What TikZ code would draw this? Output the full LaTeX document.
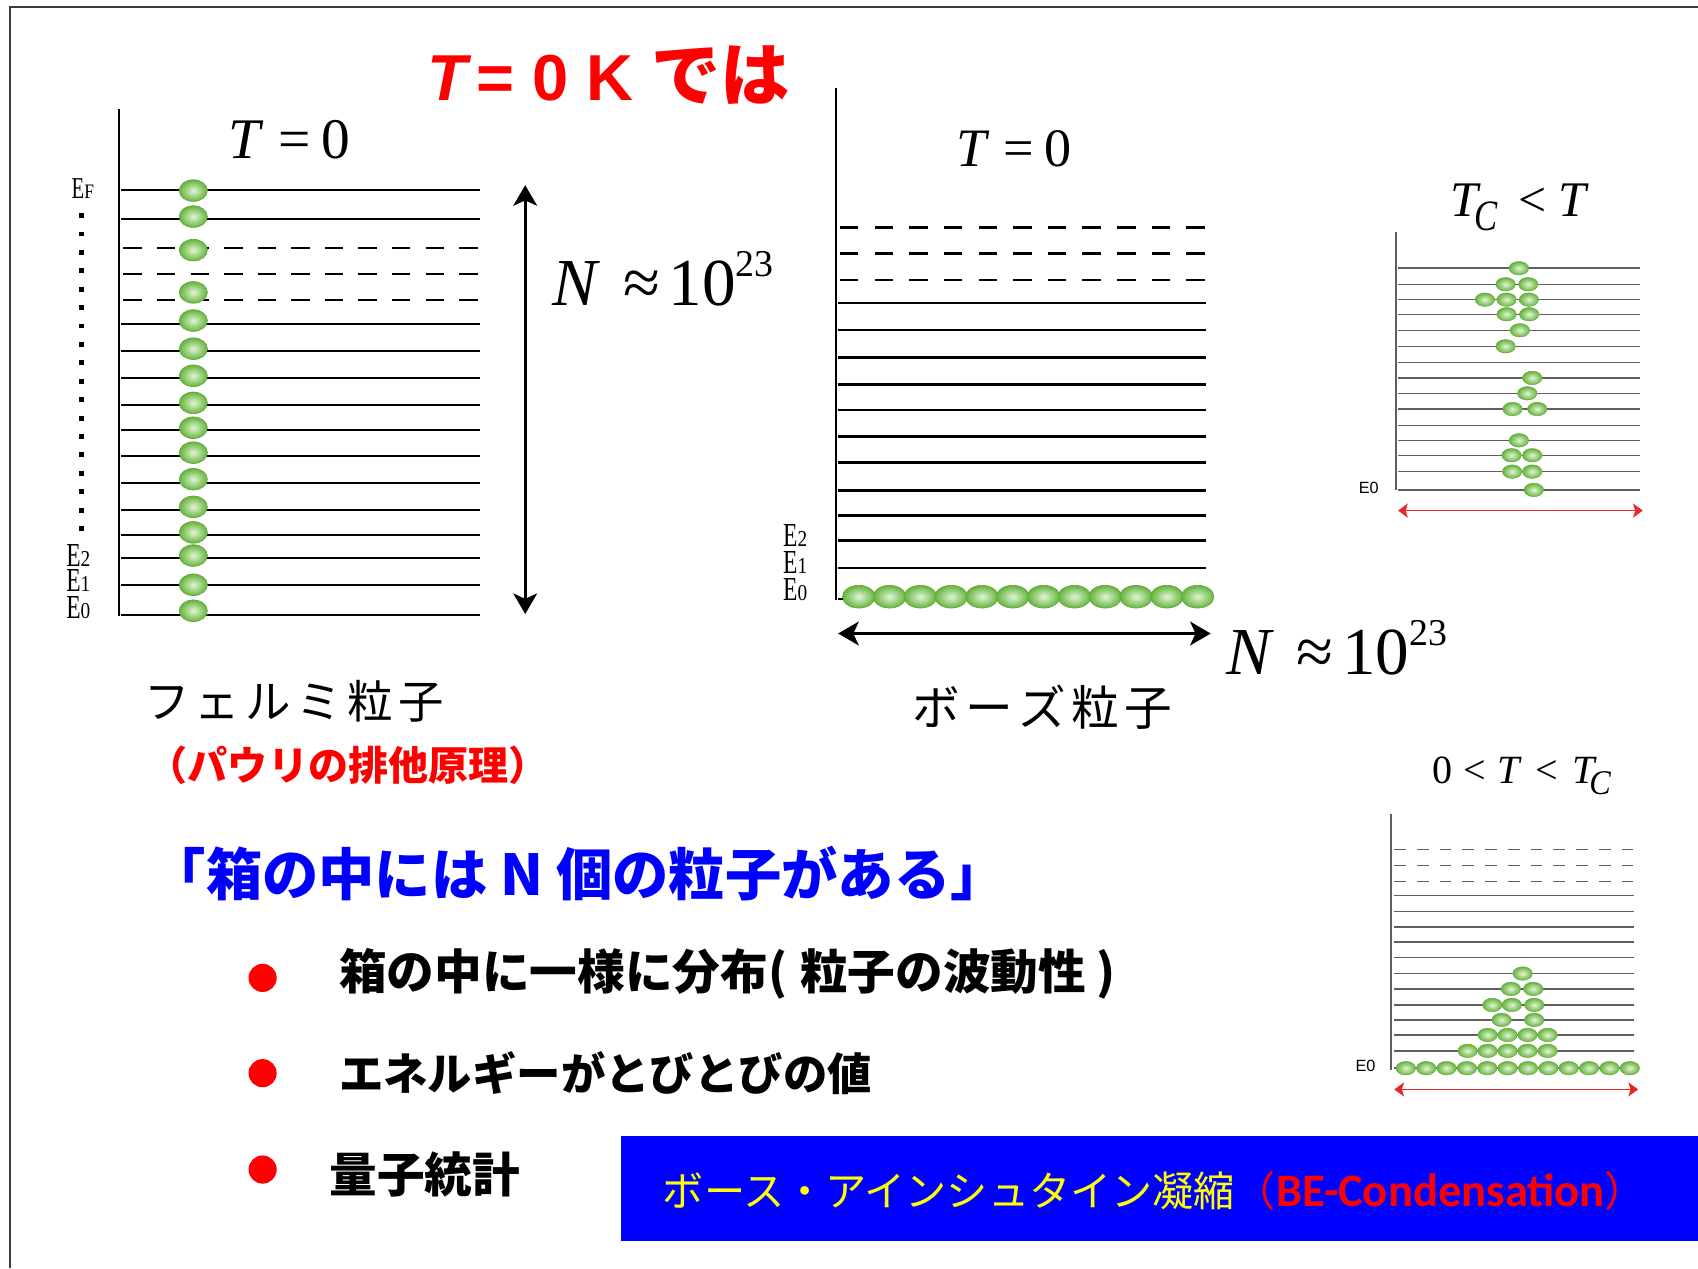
\documentclass[tikz,border=0pt]{standalone}
\usepackage{fontspec}
\usepackage{graphicx}
\usetikzlibrary{arrows.meta,shapes.geometric}
\setmainfont{Liberation Serif}
\newfontfamily\cjk{Noto Sans CJK JP}
\newfontfamily\arialf{Liberation Sans}
\newfontfamily\calib{Carlito}
\newcommand\fsz[1]{\fontsize{#1}{#1}\selectfont}
\newcommand\gap{\hspace{5pt}}
% energy level label: narrow E with a small index
\newcommand\elev[1]{{\fsz{31}\scalebox{0.7}[1]{E}}{\fsz{21}\scalebox{0.85}[1]{#1}}}
\definecolor{ballout}{RGB}{100,180,60}
\definecolor{ballin}{RGB}{225,245,212}
\definecolor{ballrim}{RGB}{105,165,65}
\definecolor{axisgray}{RGB}{95,95,95}
\definecolor{framegray}{RGB}{60,60,60}
\definecolor{arrowred}{RGB}{230,40,40}
\definecolor{pureblue}{RGB}{0,0,255}
\definecolor{pureyellow}{RGB}{255,255,0}
\definecolor{purered}{RGB}{255,0,0}
\tikzset{
  lvl/.style={line width=2.2pt, black},
  dlvl/.style={lvl, dash pattern=on 17pt off 14pt},
  slvl/.style={line width=1.4pt, axisgray},
  sdlvl/.style={slvl, dash pattern=on 10.8pt off 10.2pt},
  axisline/.style={line width=2.4pt, black},
  saxis/.style={line width=1.8pt, axisgray},
  fball/.style={ellipse, inner sep=0pt, minimum width=26pt, minimum height=20pt,
    inner color=ballin, outer color=ballout, draw=ballrim, line width=0.6pt},
  bball/.style={fball, minimum width=30pt, minimum height=21pt},
  sball/.style={fball, minimum width=18pt, minimum height=12.5pt, line width=0.4pt},
  bigarrow/.style={line width=2.4pt, {Stealth[length=19pt,width=22pt,inset=5pt]}-{Stealth[length=19pt,width=22pt,inset=5pt]}},
  redarrow/.style={line width=1.4pt, arrowred, {Stealth[length=9pt,width=13pt,inset=2pt]}-{Stealth[length=9pt,width=13pt,inset=2pt]}},
  lab/.style={inner sep=0pt, anchor=base west},
  elab/.style={inner sep=0pt, anchor=base west},
  bullet/.style={circle, fill=purered, minimum size=26pt, inner sep=0pt},
}
\begin{document}
\begin{tikzpicture}[x=1pt,y=-1pt]
\useasboundingbox (0,0) rectangle (1568,1171);
\fill[white] (0,0) rectangle (1568,1171);
% slide frame
\draw[framegray, line width=1.6pt] (9,1171) -- (9,6.5) -- (1568,6.5);

% title
\node[lab, text=purered] (title) at (395,93)
  {\fsz{60}{\arialf\bfseries\itshape T}\hspace{8pt}{\arialf\bfseries = 0 K }{\cjk\bfseries\fsz{64}では}};

% ---------- Fermi particles ----------
\draw[axisline] (110,101) -- (110,569);
\foreach \y in {175.5,202,299,324,349,374,397,421,446,471,494,515,540,568}
  \draw[lvl] (112,\y) -- (443,\y);
\foreach \y in {229,253,277}
  \draw[dlvl] (114,\y) -- (443,\y);
\foreach \y [count=\i] in {176,200,231,270,296,322,347,372,395,418,442.5,468,491.6,513,540,564}
  \node[fball] (fb\i) at (178.5,\y) {};
\foreach \k in {0,...,17}
  \fill (73.3,196.8+17*\k) rectangle ++(4.5,4.5);
\node[elab] (ef) at (66,183) {{\fsz{28}\scalebox{0.68}[1]{E}}{\fsz{19}\scalebox{0.85}[1]{F}}};
\node[elab] (fe2) at (61,523.5) {\elev{2}};
\node[elab] (fe1) at (61,546.5) {\elev{1}};
\node[elab] (fe0) at (61,571) {\elev{0}};
\node[lab] (ft0) at (210.8,146) {\fsz{53}{\itshape T}\hspace{16.8pt}=\hspace{9.9pt}0};
\coordinate (fa1) at (485,171);
\coordinate (fa2) at (485,567);
\draw[bigarrow] (fa1) -- (fa2);
\node[lab] (fn) at (510,282) {\fsz{62}{\itshape N}\hspace{24pt}≈\hspace{8pt}10\raisebox{27pt}{\fsz{35}23}};
\node[text=black] (fname) at (271.5,648) {\cjk\fsz{42}フ\gap ェ\gap ル\gap ミ\gap 粒\gap 子};
\node[text=purered] (pauli) at (321.5,706.5) {\cjk\bfseries\fsz{37}（パウリの排他原理）};

% ---------- Bose particles, T = 0 ----------
\draw[axisline] (772,81) -- (772,554);
\foreach \y in {280,305,330,355,378.5,403,427,453,476,499,524.5,553}
  \draw[lvl] (774,\y) -- (1114,\y);
\foreach \y in {210,234.2,258.6}
  \draw[dlvl, dash pattern=on 17pt off 15pt] (775.6,\y) -- (1114,\y);
\foreach \i in {0,...,11}
  \node[bball] (bb\i) at (793+28.45*\i,551) {};
\node[elab] (be2) at (723,505) {\elev{2}};
\node[elab] (be1) at (723,529.5) {\elev{1}};
\node[elab] (be0) at (723,554.5) {\elev{0}};
\node[lab] (bt0) at (883,153.6) {\fsz{50}{\itshape T}\hspace{15.8pt}=\hspace{9.3pt}0};
\coordinate (ba1) at (774,585);
\coordinate (ba2) at (1118,585);
\draw[bigarrow] (ba1) -- (ba2);
\node[lab] (bn) at (1132,623) {\fsz{62}{\itshape N}\hspace{24pt}≈\hspace{8pt}10\raisebox{27pt}{\fsz{35}23}};
\node[text=black] (bname) at (962.5,653) {\cjk\fsz{44}ボ\gap ー\gap ズ\gap 粒\gap 子};

% ---------- Bose particles, T_C < T ----------
\node[lab] (hot) at (1339.2,200) {\fsz{46}{\itshape T}\hspace{-3.3pt}\raisebox{-12.5pt}{\fsz{40}\scalebox{0.8}[1]{\itshape C}}\hspace{19pt}<\hspace{11.3pt}{\itshape T}};
\draw[saxis] (1289,214) -- (1289,452.4);
\foreach \y in {247.7,262.5,276.7,290.2,305,319.8,334.9,349,363.2,377.7,393.1,406.6,420.4,435.5,452.4}
  \draw[slvl] (1291,\y) -- (1514,\y);
\foreach \x/\y [count=\i] in {1402.6/247.7, 1390.3/262.5, 1411.2/262.5, 1371.2/276.7, 1391.2/276.7,
    1411.8/276.7, 1391.2/290.2, 1412.1/290.2, 1403.5/305, 1390.3/319.8, 1414.9/349, 1410.3/363.2,
    1396.7/377.7, 1419.5/377.7, 1402.6/406.6, 1395.8/420.4, 1414.9/420.4, 1396.4/435.5,
    1414.9/435.5, 1416.4/452.4}
  \node[sball] (hb\i) at (\x,\y) {};
\node[inner sep=0pt] (he0) at (1264,451) {\arialf\fsz{15}E0};
\coordinate (ha1) at (1291,471.5);
\coordinate (ha2) at (1517,471.5);
\draw[redarrow] (ha1) -- (ha2);

% ---------- Bose particles, 0 < T < T_C ----------
\node[lab] (cold) at (1322.6,723.3) {\fsz{37}0\hspace{10.5pt}<\hspace{10.3pt}{\itshape T}\hspace{14.5pt}<\hspace{13.3pt}{\itshape T}\hspace{-5.2pt}\raisebox{-10.7pt}{\fsz{32}\scalebox{0.93}[1]{\itshape C}}};
\draw[saxis] (1284.4,751.6) -- (1284.4,988);
\foreach \y in {827,841.5,856,870.1,884.3,899,913.2,928,941.8,955.7,970.4,986.4}
  \draw[slvl] (1287.5,\y) -- (1509,\y);
\foreach \y in {784.5,799.3,813.8}
  \draw[sdlvl] (1287.5,\y) -- (1509,\y);
\foreach \x/\y [count=\i] in {1406/899, 1395.2/913.2, 1415.8/913.2, 1378/928, 1396.1/928, 1416.7/928,
    1386.6/941.8, 1416.7/941.8, 1373.7/955.7, 1392.1/955.7, 1410.6/955.7, 1429.1/955.7,
    1355.2/970.4, 1373.7/970.4, 1392.1/970.4, 1410.6/970.4, 1429.1/970.4}
  \node[sball] (cb\i) at (\x,\y) {};
\foreach \i in {0,...,11}
  \node[sball] (cg\i) at (1298.2+18.8*\i,986.4) {};
\node[inner sep=0pt] (ce0) at (1261,984) {\arialf\fsz{15}E0};
\coordinate (ca1) at (1287.5,1006);
\coordinate (ca2) at (1512.7,1006);
\draw[redarrow] (ca1) -- (ca2);

% ---------- text block ----------
\node[text=pureblue] (box) at (534,807) {\cjk\bfseries\fsz{52}「箱の中には N 個の粒子がある」};
\node[bullet] (b1) at (242.5,903) {};
\node[bullet] (b2) at (242.5,991) {};
\node[bullet] (b3) at (242.5,1080) {};
\node[anchor=west, inner sep=0pt] (t1) at (313,899) {\cjk\bfseries\fsz{44}箱の中に一様に分布(\hspace{2pt} 粒子の波動性 )};
\node[anchor=west, inner sep=0pt] (t2) at (313,991) {\cjk\bfseries\fsz{41}エネルギーがとびとびの値};
\node[anchor=west, inner sep=0pt] (t3) at (304,1085) {\cjk\bfseries\fsz{44}量子統計};

% condensation banner
\node[fill=pureblue, anchor=north west, inner sep=0pt, minimum width=995pt, minimum height=97pt] (banner) at (573,1049) {};
\node[anchor=west, inner sep=0pt] (bec) at (612,1100)
  {\fsz{38}{\cjk\color{pureyellow}ボース・アインシュタイン凝縮}{\cjk\color{purered}（}{\calib\bfseries\fsz{43}\color{purered}BE-Condensation}{\cjk\color{purered}）}};
\end{tikzpicture}
\end{document}
